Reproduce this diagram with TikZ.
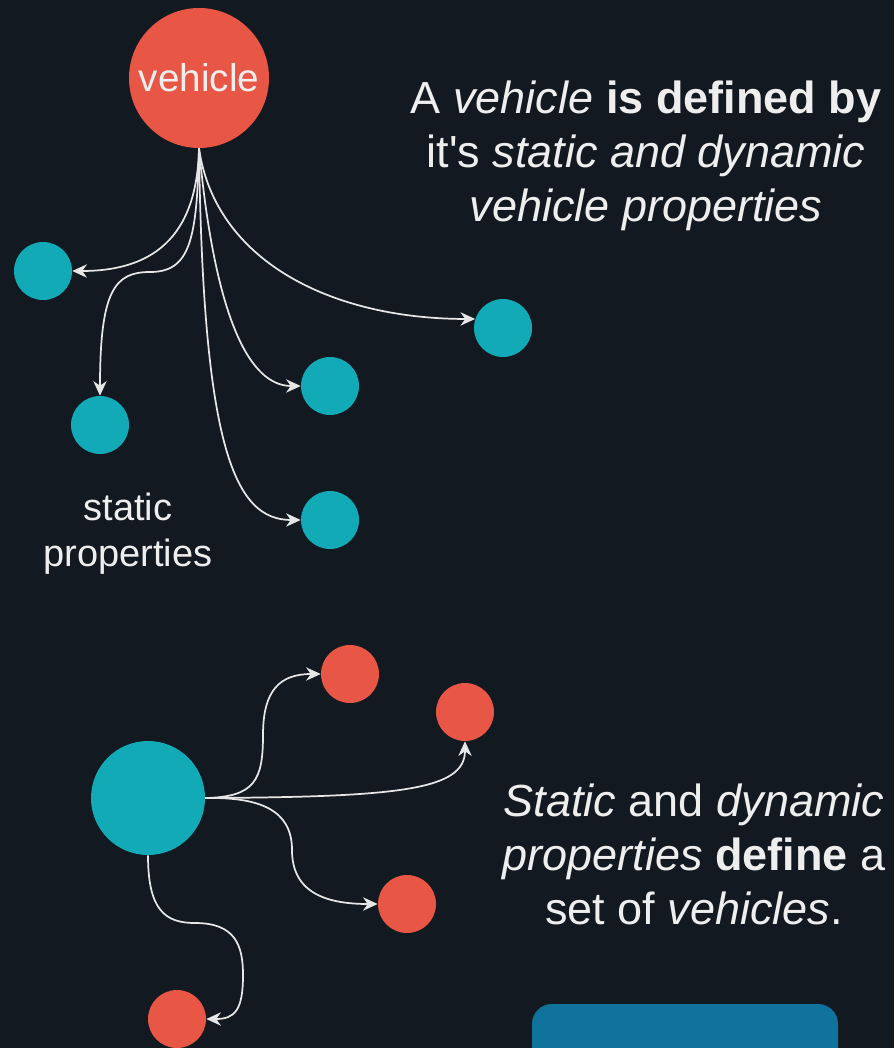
\documentclass[tikz,border=0pt]{standalone}
\usepackage{fontspec}
\setmainfont{Liberation Sans}
\usetikzlibrary{arrows.meta}
\definecolor{bgdark}{HTML}{131920}
\definecolor{coral}{HTML}{E85645}
\definecolor{tealdot}{HTML}{12AAB7}
\definecolor{boxblue}{HTML}{10739B}
\definecolor{inkline}{HTML}{E6E6E6}
\definecolor{inktext}{HTML}{EEEEEE}
\tikzset{
  dot/.style={circle, fill=#1, draw=none, inner sep=0pt, minimum size=43.5pt},
  bigdot/.style={circle, fill=#1, draw=none, inner sep=0pt, minimum size=85.5pt},
  link/.style={draw=inkline, line width=1.3pt,
    -{Stealth[length=11pt, width=10pt, inset=3.5pt]}},
  caption/.style={text=inktext, align=center, inner sep=0pt,
    font=\fontsize{33.75}{40.5}\selectfont},
  label/.style={text=inktext, align=center, inner sep=0pt,
    font=\fontsize{28.5}{34.5}\selectfont}
}
\begin{document}
\begin{tikzpicture}[x=0.75pt, y=-0.75pt]
\clip (0,0) rectangle (894,1048);
\fill[bgdark] (0,0) rectangle (894,1048);
\useasboundingbox (0,0) rectangle (894,1048);

% upper cluster: a vehicle and its properties
\node[circle, fill=coral, inner sep=0pt, minimum size=105pt,
      text=inktext, font=\fontsize{29}{34}\selectfont] (veh) at (199,78) {vehicle};
\node[dot=tealdot] (pa) at (43,271) {};
\node[dot=tealdot] (pb) at (100,425) {};
\node[dot=tealdot] (pc) at (330,386) {};
\node[dot=tealdot] (pd) at (503,328) {};
\node[dot=tealdot] (pe) at (330,520) {};

\node[label] (statlbl) at (128,534) {static\\properties};

\node[caption] (topcap) at (646,156)
  {A \textit{vehicle} \textbf{is defined by}\\
   it\textquotesingle s \textit{static and dynamic}\\
   \textit{vehicle properties}};

\path[link] (veh.south) .. controls (197,240) and (150,271) .. (pa.east);
\path[link] (veh.south) .. controls (197,240) and (190,272) .. (150,272)
                        .. controls (115,272) and (100,290) .. (pb.north);
\path[link] (veh.south) .. controls (215,320) and (250,386) .. (pc.west);
\path[link] (veh.south) .. controls (215,260) and (330,319) .. (pd.162);
\path[link] (veh.south) .. controls (203,450) and (235,520) .. (pe.west);

% lower cluster: a property and the vehicles it defines
\node[bigdot=tealdot] (prop) at (148,798) {};
\node[dot=coral] (va) at (350,674) {};
\node[dot=coral] (vb) at (465,712) {};
\node[dot=coral] (vc) at (407,904) {};
\node[dot=coral] (vd) at (177,1019) {};

\node[caption] (botcap) at (694,854)
  {\textit{Static} and \textit{dynamic}\\
   \textit{properties} \textbf{define} a\\
   set of \textit{vehicles}.};

\path[link] (prop.east) .. controls (255,797) and (263,780) .. (263,735)
                        .. controls (263,690) and (280,674) .. (va.west);
\path[link] (prop.east) .. controls (400,797) and (465,790) .. (vb.south);
\path[link] (prop.east) .. controls (260,797) and (292,810) .. (292,850)
                        .. controls (292,895) and (330,904) .. (vc.west);
\path[link] (prop.south) .. controls (148,910) and (165,923) .. (195,923)
                         .. controls (235,923) and (243,945) .. (243,975)
                         .. controls (243,1010) and (235,1019) .. (vd.east);

% panel at the lower edge
\fill[boxblue, rounded corners=15] (532,1004) rectangle (838,1100);
\end{tikzpicture}
\end{document}
